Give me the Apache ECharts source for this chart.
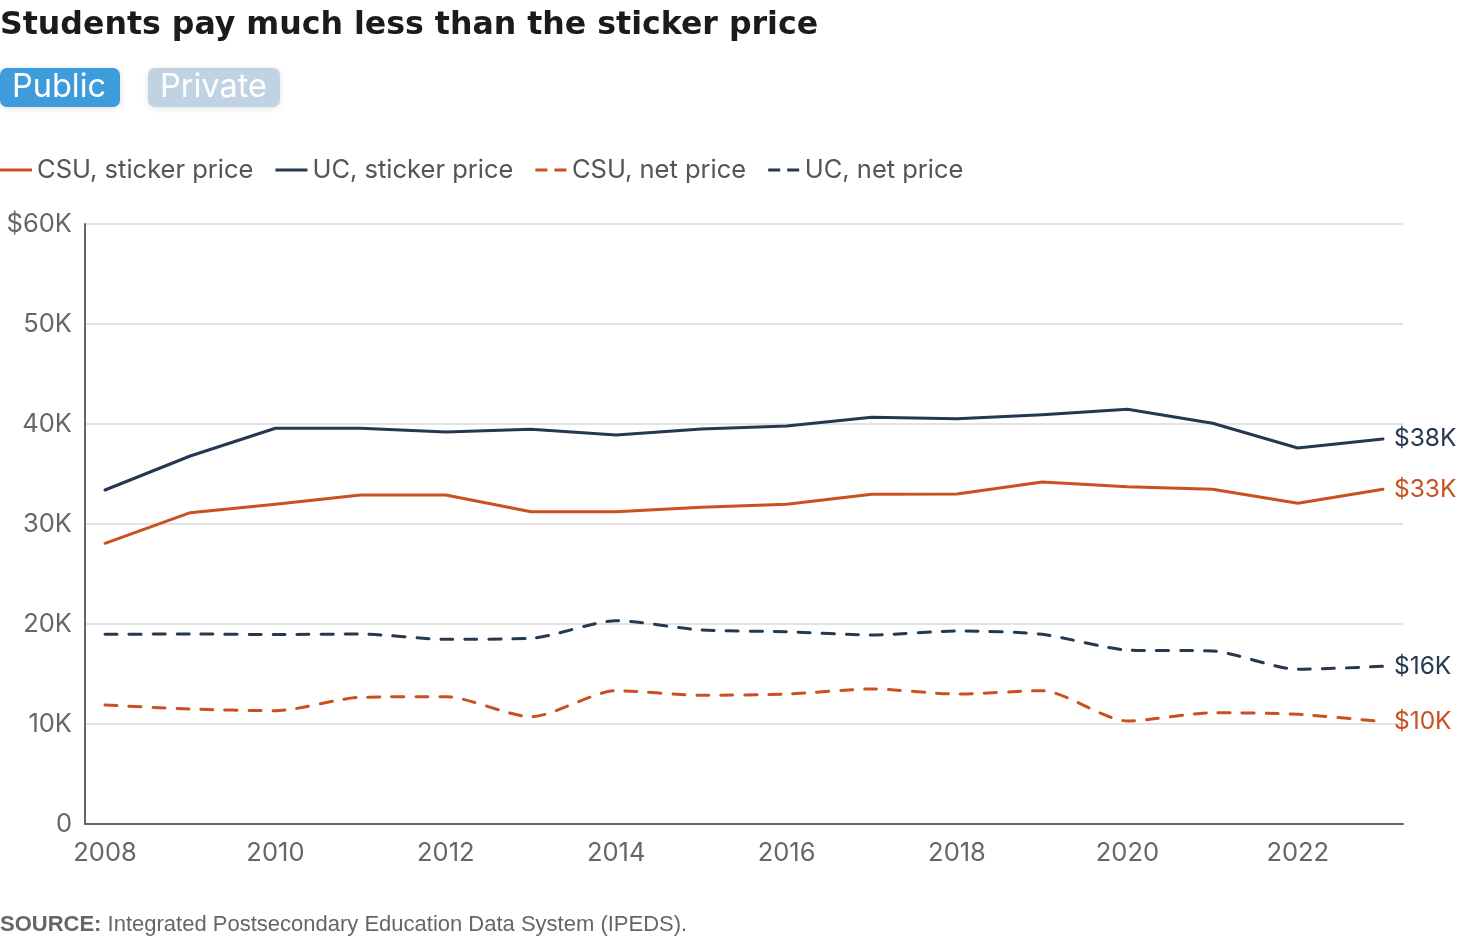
<!DOCTYPE html>
<html>
<head>
<meta charset="utf-8">
<script src="https://cdn.jsdelivr.net/npm/echarts@6/dist/echarts.min.js"></script>
<style>
html,body{margin:0;padding:0;background:#fff;}
#chart{width:1460px;height:940px;}
</style>
</head>
<body>
<div id="chart"></div>
<script>
const years = [2008,2009,2010,2011,2012,2013,2014,2015,2016,2017,2018,2019,2020,2021,2022,2023];
const csuSticker = [28070,31130,31970,32900,32900,31230,31230,31670,31970,32970,33000,34200,33730,33470,32070,33470];
const ucSticker  = [33400,36800,39570,39570,39200,39470,38900,39500,39800,40670,40530,40930,41470,40070,37600,38500];
const csuNet     = [11900,11500,11330,12670,12730,10730,13330,12870,13000,13500,13000,13330,10300,11130,10970,10230];
const ucNet      = [18970,19000,18950,19000,18470,18570,20330,19400,19230,18900,19300,18970,17400,17300,15470,15770];
const seriesNames = ['CSU, sticker price','UC, sticker price','CSU, net price','UC, net price'];
const endLabels = ['$33K','$38K','$10K','$16K'];
const xTickLabels = [2008,2010,2012,2014,2016,2018,2020,2022];

const ORANGE = '#c9501f';
const NAVY = '#253852';
const FONT = 'Inter, "Open Sans", sans-serif';
const TITLE_FONT = '"DejaVu Sans", sans-serif';
const SRC_FONT = '"Liberation Sans", Arial, sans-serif';

const SOLID_ICON = 'path://M0,0H32V3H0Z';
const DASH_ICON = 'path://M0,0H12V3H0Z M19,0H31V3H19Z';

function pairs(vals){ return years.map((y,i)=>[y, vals[i]]); }

function mkSeries(name, vals, color, dashed, endText){
  return {
    name: name,
    type: 'line',
    data: pairs(vals),
    symbol: 'none',
    smooth: dashed ? 0.25 : false,
    lineStyle: dashed ? {color: color, width: 3, type: [12,12], cap: 'round'} : {color: color, width: 3, cap: 'round', join: 'round'},
    itemStyle: {color: color},
    endLabel: {show: true, formatter: endText, color: color, fontSize: 24.5, fontFamily: FONT, distance: 11},
    emphasis: {disabled: true},
    silent: true
  };
}

const chart = echarts.init(document.getElementById('chart'), null, {renderer: 'canvas'});
chart.setOption({
  animation: false,
  backgroundColor: '#fff',
  textStyle: {fontFamily: FONT},
  title: {
    text: 'Students pay much less than the sticker price',
    left: 0, top: 10, padding: 0,
    textStyle: {fontSize: 31.6, fontWeight: 'bold', color: '#1b1b1b', fontFamily: TITLE_FONT}
  },
  graphic: [
    {type: 'rect', left: 0, top: 68, shape: {width: 120, height: 39, r: 7},
     style: {fill: '#3e9cdc', shadowBlur: 6, shadowColor: 'rgba(0,0,0,0.15)', shadowOffsetY: 1}},
    {type: 'text', left: 12, top: 71, style: {text: 'Public', fill: '#fff', fontSize: 32.5, fontFamily: FONT}},
    {type: 'rect', left: 148, top: 68, shape: {width: 132, height: 39, r: 7},
     style: {fill: '#c2d2e5', shadowBlur: 6, shadowColor: 'rgba(0,0,0,0.12)', shadowOffsetY: 1}},
    {type: 'text', left: 160, top: 71, style: {text: 'Private', fill: '#fff', fontSize: 32.5, fontFamily: FONT}},
    {type: 'text', left: 0, top: 914, style: {
      text: '{b|SOURCE:} Integrated Postsecondary Education Data System (IPEDS).',
      rich: {b: {fontWeight: 'bold', fontSize: 22, fill: '#666', fontFamily: SRC_FONT}},
      fontSize: 22, fill: '#666', fontFamily: SRC_FONT
    }}
  ],
  legend: {
    left: 0, top: 157, padding: 0,
    itemWidth: 32, itemHeight: 3, itemGap: 22,
    data: [
      {name: seriesNames[0], icon: SOLID_ICON},
      {name: seriesNames[1], icon: SOLID_ICON},
      {name: seriesNames[2], icon: DASH_ICON},
      {name: seriesNames[3], icon: DASH_ICON}
    ],
    textStyle: {fontSize: 25.5, color: '#555', fontFamily: FONT},
    selectedMode: false
  },
  grid: {left: 85, right: 57, top: 224, bottom: 116, containLabel: false},
  xAxis: {
    type: 'value',
    min: 2007.765, max: 2023.235,
    axisLine: {show: true, lineStyle: {color: '#666', width: 2}},
    axisTick: {show: false},
    splitLine: {show: false},
    axisLabel: {
      customValues: xTickLabels,
      fontSize: 25.5, color: '#666', fontFamily: FONT, margin: 16,
      formatter: v => String(v)
    }
  },
  yAxis: {
    type: 'value',
    min: 0, max: 60000, interval: 10000,
    axisLine: {show: true, lineStyle: {color: '#666', width: 2}},
    axisTick: {show: false},
    splitLine: {show: true, lineStyle: {color: '#e3e3e3', width: 2}},
    axisLabel: {
      fontSize: 25.5, color: '#666', fontFamily: FONT, margin: 13,
      formatter: v => v === 0 ? '0' : (v === 60000 ? '$60K' : (v/1000) + 'K')
    }
  },
  series: [
    mkSeries(seriesNames[0], csuSticker, ORANGE, false, endLabels[0]),
    mkSeries(seriesNames[1], ucSticker, NAVY, false, endLabels[1]),
    mkSeries(seriesNames[2], csuNet, ORANGE, true, endLabels[2]),
    mkSeries(seriesNames[3], ucNet, NAVY, true, endLabels[3])
  ]
});
</script>
</body>
</html>
